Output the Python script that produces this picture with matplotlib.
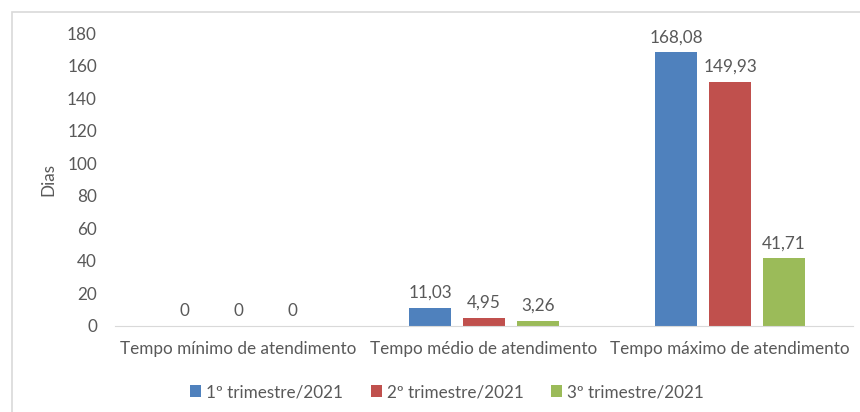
import numpy as np
import matplotlib.pyplot as plt
from matplotlib.patches import Rectangle

categories = ["Tempo mínimo de atendimento", "Tempo médio de atendimento",
              "Tempo máximo de atendimento"]
series = ["1º trimestre/2021", "2º trimestre/2021", "3º trimestre/2021"]
tri1 = [0, 11.03, 168.08]
tri2 = [0, 4.95, 149.93]
tri3 = [0, 3.26, 41.71]
colors = ["#4F81BD", "#C0504D", "#9BBB59"]

plt.rcParams["font.family"] = ["Lato", "DejaVu Sans"]
text_color = "#595959"
fs = 12.3

fig = plt.figure(figsize=(8.6, 4.12), dpi=100)
# chart border (cropped by the picture edge)
fig.patches.append(Rectangle((12 / 860, -0.1), 1.0, 1 - 12 / 412 + 0.1,
                             transform=fig.transFigure, fill=False,
                             edgecolor="#d9d9d9", linewidth=1.2))

ax = fig.add_axes([115 / 860, 1 - 326 / 412, (853 - 115) / 860, (326 - 33) / 412])
x = np.arange(len(categories))
width = 0.171
offset = 0.2195

for i, (vals, name, col) in enumerate(zip([tri1, tri2, tri3], series, colors)):
    pos = x + (i - 1) * offset
    bars = ax.bar(pos, vals, width, color=col, label=name)
    for b, v in zip(bars, vals):
        txt = "0" if v == 0 else f"{v:.2f}".replace(".", ",")
        ax.annotate(txt, (b.get_x() + b.get_width() / 2, v), xytext=(0, 5),
                    textcoords="offset points", ha="center", va="bottom",
                    fontsize=fs, color=text_color)

ax.set_xlim(-0.5, 2.5)
ax.set_ylim(0, 180)
ax.set_yticks(range(0, 181, 20))
ax.set_xticks(x)
ax.set_xticklabels(categories)
ax.tick_params(axis="both", length=0, labelsize=fs, labelcolor=text_color)
ax.tick_params(axis="x", pad=11)
ax.tick_params(axis="y", pad=13)
for s in ["top", "right", "left"]:
    ax.spines[s].set_visible(False)
ax.spines["bottom"].set_color("#d9d9d9")
ax.set_ylabel("Dias", fontsize=fs, color=text_color, labelpad=8)

fig.legend(loc="center", bbox_to_anchor=(447 / 860, 1 - 392 / 412), ncol=3,
           frameon=False, fontsize=fs, labelcolor=text_color,
           handlelength=0.65, handleheight=0.65, handletextpad=0.3,
           columnspacing=1.6)

fig.savefig("out.png", dpi=100)
